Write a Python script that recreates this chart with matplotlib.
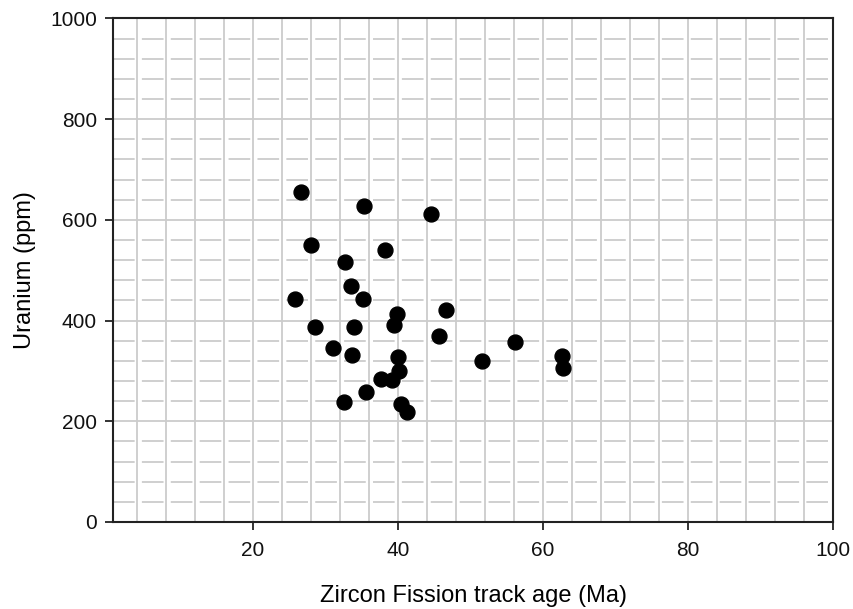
import matplotlib as mpl
mpl.use('Agg')
from matplotlib import pyplot as plt
import numpy as np

# zircon fission track age (Ma) vs uranium (ppm)
age = np.array([26.6, 35.3, 44.6, 28.0, 38.2, 32.7, 33.5, 25.8, 35.2, 39.9,
                46.7, 39.4, 28.5, 34.0, 45.7, 31.0, 33.7, 40.0, 40.1, 37.7,
                39.2, 35.6, 32.6, 40.4, 41.3, 51.6, 56.2, 62.6, 62.8])
uranium = np.array([656, 628, 612, 551, 540, 516, 469, 442, 442, 414,
                    421, 391, 387, 387, 369, 346, 331, 327, 300, 284,
                    282, 258, 238, 234, 218, 320, 357, 330, 305])

mpl.rcParams.update({
    "font.family": ["Liberation Sans", "DejaVu Sans"],
    "font.size": 15,
})

fig = plt.figure(figsize=(8.54, 6.09), dpi=100, facecolor='w')
ax = fig.add_axes([0.1329, 0.1429, 0.8422, 0.8268])

gcol = '#cccccc'
# vertical grid every 4 Ma
for xv in np.arange(4, 100, 4):
    ax.axvline(xv, color=gcol, lw=1.3, zorder=0)
# horizontal grid: dashed every 40, solid every 200
for yv in np.arange(40, 1000, 40):
    if yv % 200 == 0:
        ax.axhline(yv, color=gcol, lw=1.3, zorder=0)
    else:
        ax.axhline(yv, color=gcol, lw=1.3, dashes=(12, 4), dash_capstyle='butt', zorder=0)

ax.scatter(age, uranium, s=115, color='black', zorder=3)

ax.set_xlim(0.75, 100)
ax.set_ylim(0, 1000)
ax.set_xticks([20, 40, 60, 80, 100])
ax.set_yticks([0, 200, 400, 600, 800, 1000])
ax.tick_params(direction='out', length=6, width=1.2, labelsize=15, colors='#111111')
ax.tick_params(axis='x', pad=8)
ax.tick_params(axis='y', pad=6)
for sp in ax.spines.values():
    sp.set_linewidth(1.5)
    sp.set_color('#222222')

ax.set_xlabel('Zircon Fission track age (Ma)', fontsize=17, labelpad=18)
ax.set_ylabel('Uranium (ppm)', fontsize=17, labelpad=10)

plt.savefig('out.png', dpi=100)
